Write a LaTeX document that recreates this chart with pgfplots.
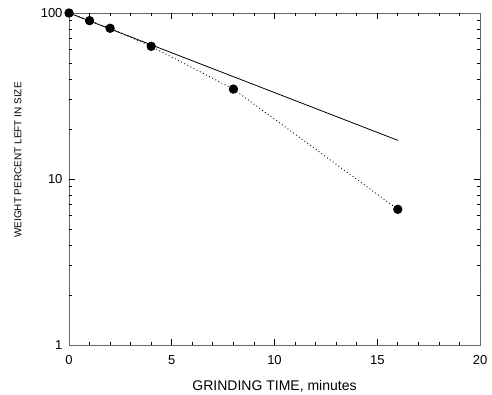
\documentclass[border=0pt]{standalone}
\usepackage{fontspec}
\setmainfont{Liberation Sans}
\usepackage{pgfplots}
\pgfplotsset{compat=1.18}
\begin{document}
\begin{tikzpicture}
\begin{axis}[
  scale only axis, width=411pt, height=332pt,
  xmin=0, xmax=20, ymin=1, ymax=100, ymode=log,
  xtick={0,5,10,15,20}, minor x tick num=4,
  ytick={1,10,100},
  log ticks with fixed point,
  tick align=inside,
  major tick length=6pt, minor tick length=3.5pt,
  tick style={black, line width=0.8pt},
  axis line style={black!60, line width=0.9pt},
  /pgf/number format/assume math mode=true,
  tick label style={font=\fontsize{13}{13}\selectfont},
  xticklabel style={yshift=-7pt},
  yticklabel style={xshift=-3pt},
  xlabel={GRINDING TIME, minutes},
  xlabel style={font=\fontsize{14}{14}\selectfont, at={(axis description cs:0.5,0)}, anchor=center, yshift=-41pt},
  ylabel={WEIGHT PERCENT LEFT IN SIZE},
  ylabel style={font=\fontsize{10}{10}\selectfont, at={(axis description cs:-0.124,0.557)}, anchor=center},
  clip=false,
]
\pgfplotsinvokeforeach{5,10,15}{
  \draw[black, line width=0.8pt] (axis cs:#1,1) -- ([yshift=6pt]axis cs:#1,1);
  \draw[black, line width=0.8pt] (axis cs:#1,100) -- ([yshift=-6pt]axis cs:#1,100);
}
\pgfplotsinvokeforeach{1,2,3,4,6,7,8,9,11,12,13,14,16,17,18,19}{
  \draw[black, line width=0.8pt] (axis cs:#1,1) -- ([yshift=3.5pt]axis cs:#1,1);
  \draw[black, line width=0.8pt] (axis cs:#1,100) -- ([yshift=-3.5pt]axis cs:#1,100);
}
\draw[black, line width=0.8pt] (axis cs:0,10) -- ([xshift=6pt]axis cs:0,10);
\draw[black, line width=0.8pt] (axis cs:20,10) -- ([xshift=-6pt]axis cs:20,10);
\pgfplotsinvokeforeach{2,3,4,5,6,7,8,9,20,30,40,50,60,70,80,90}{
  \draw[black, line width=0.8pt] (axis cs:0,#1) -- ([xshift=3.5pt]axis cs:0,#1);
  \draw[black, line width=0.8pt] (axis cs:20,#1) -- ([xshift=-3.5pt]axis cs:20,#1);
}
\addplot[black, line width=0.8pt, no marks] coordinates {(0,100) (16,17.1)};
\addplot[black, line width=0.9pt, dash pattern=on 0.9pt off 2.6pt, mark=*, mark size=4.2pt, mark options={solid, fill=black}]
  coordinates {(0,100) (1,89.9) (2,80.9) (4,63.0) (8,34.8) (16,6.57)};
\coordinate (sw) at (rel axis cs:0,0);
\coordinate (ne) at (rel axis cs:1,1);
\end{axis}
\pgfresetboundingbox
\path[use as bounding box] ([shift={(-69pt,-49pt)}]sw) rectangle ([shift={(12pt,13pt)}]ne);
\end{tikzpicture}
\end{document}
